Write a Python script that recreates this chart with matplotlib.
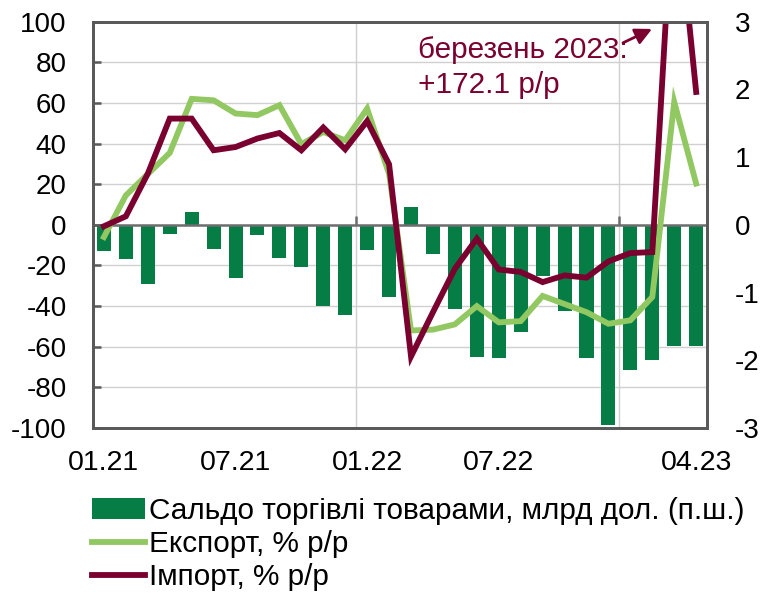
import numpy as np
import matplotlib
matplotlib.use("Agg")
import matplotlib.pyplot as plt

plt.rcParams['font.family'] = ['Liberation Sans', 'DejaVu Sans']
plt.rcParams['axes.unicode_minus'] = False

months = ["01.21", "02.21", "03.21", "04.21", "05.21", "06.21", "07.21", "08.21", "09.21", "10.21", "11.21", "12.21",
          "01.22", "02.22", "03.22", "04.22", "05.22", "06.22", "07.22", "08.22", "09.22", "10.22", "11.22", "12.22",
          "01.23", "02.23", "03.23", "04.23"]
shown_labels = ["01.21", "07.21", "01.22", "07.22", "04.23"]

# сальдо, млрд дол. (права шкала)
balance = [-0.39, -0.50, -0.88, -0.14, 0.19, -0.35, -0.79, -0.15, -0.49, -0.62, -1.20, -1.33,
           -0.37, -1.06, 0.27, -0.43, -1.25, -1.95, -1.97, -1.59, -0.75, -1.27, -1.96, -2.96,
           -2.15, -1.99, -1.79, -1.79]
# експорт, % р/р
export = [-6, 14.5, 25, 35.4, 62, 61.3, 54.8, 54, 58.9, 39.7, 45.7, 41.6,
          57.2, 25, -52, -51.6, -49, -40, -48, -47.4, -35, -39, -43, -48.7,
          -47, -35.5, 60.5, 20.3]
# імпорт, % р/р
imports = [-0.7, 4.2, 25.2, 52.3, 52.3, 36.7, 38.3, 42.5, 45.2, 36.7, 47.9, 37.2,
           51.1, 29.8, -64.8, -43, -21.6, -6.8, -22, -23.2, -28.2, -24.9, -26, -18,
           -13.9, -13.4, 172.1, 65.4]

green_bar = "#077D46"
green_line = "#92C862"
maroon = "#7A0030"
frame = "#595959"
grid_c = "#D0D0D0"
fs = 20
fs_big = 21.4

x = np.arange(len(months))

fig = plt.figure(figsize=(7.62, 5.94), dpi=100)
ax = fig.add_axes([0.122, 0.2795, 0.806, 0.684])  # bars, right scale
ax2 = ax.twinx()  # lines, left scale

# grid behind bars
for v in np.arange(-100, 101, 20):
    ax.axhline(v * 3 / 100, color=grid_c, lw=1, zorder=0)
for b in [11.5, 23.5]:
    ax.axvline(b, color=grid_c, lw=1, zorder=0)

bars = ax.bar(x, balance, width=0.64, color=green_bar, zorder=2,
              label="Сальдо торгівлі товарами, млрд дол. (п.ш.)")
ax.axhline(0, color="#6E6E6E", lw=1.8, zorder=3)
ax.vlines([11.5, 23.5], 0, 0.13, color="#6E6E6E", lw=1.8, zorder=3)
ax.set_ylim(-3, 3)
ax.set_xlim(-0.5, len(months) - 0.5)

l1, = ax2.plot(x, export, color=green_line, lw=4.2, solid_joinstyle="miter", label="Експорт, % р/р")
l2, = ax2.plot(x, imports, color=maroon, lw=4.2, solid_joinstyle="miter", label="Імпорт, % р/р")
ax2.set_ylim(-100, 100)

# axes: left ticks for % (ax2), right ticks for bars (ax)
ax2.yaxis.tick_left()
ax2.set_yticks(np.arange(-100, 101, 20))
ax2.tick_params(axis="y", direction="in", length=6, width=1.8, color=frame, pad=19, labelsize=fs)
ax.yaxis.tick_right()
ax.set_yticks(np.arange(-3, 4, 1))
ax.tick_params(axis="y", length=0, pad=20, labelsize=fs)
ax.set_xticks([months.index(m) for m in shown_labels])
ax.set_xticklabels(shown_labels)
ax.tick_params(axis="x", length=0, pad=16, labelsize=20.5)

for a in (ax, ax2):
    for s in a.spines.values():
        s.set_color(frame)
        s.set_linewidth(2)

ax2.text(14.3, 93, "березень 2023:\n+172.1 р/р", color=maroon, fontsize=fs_big,
         ha="left", va="top", linespacing=1.3)
ax2.annotate("", xy=(25.1, 97), xytext=(23.55, 89),
             arrowprops=dict(arrowstyle="-|>", color=maroon, lw=2, mutation_scale=25))

leg = fig.legend(handles=[bars, l1, l2], loc="upper left", bbox_to_anchor=(0.105, 0.183),
                 bbox_transform=fig.transFigure, frameon=False, fontsize=fs_big,
                 handlelength=1.8, handletextpad=0.12, labelspacing=0.17, borderaxespad=0)

fig.savefig("out.png", dpi=100)
